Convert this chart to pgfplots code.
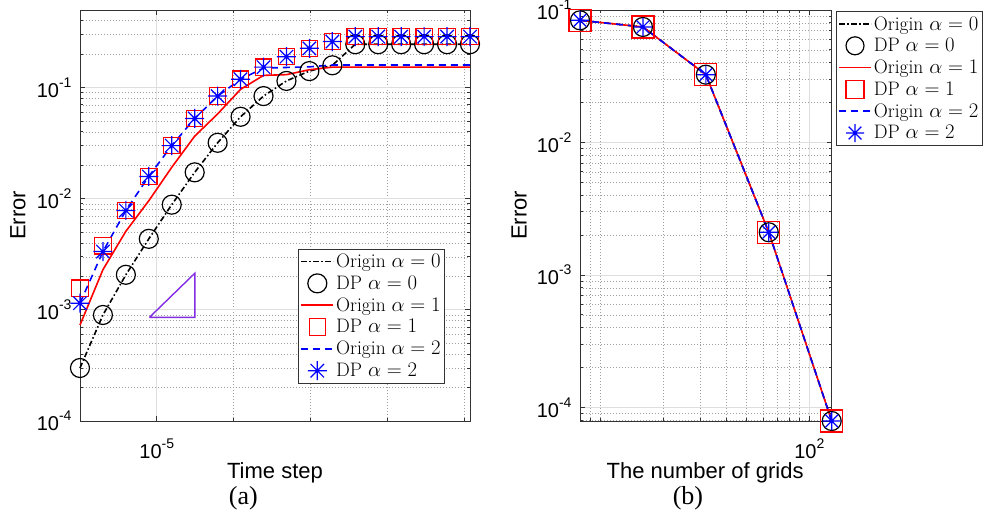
\documentclass[border=0pt]{standalone}
\usepackage{fontspec}
\usepackage{pgfplots}
\usepackage{pgfplotstable}
\pgfplotsset{compat=1.18}
\newfontfamily\arial{Liberation Sans}
\newfontfamily\timesfont{Liberation Serif}
\definecolor{tri}{RGB}{130,45,225}
\definecolor{boxc}{gray}{0.2}
\newcommand\tn[1]{10\raisebox{10pt}{\fontsize{14}{14}\selectfont#1}}

% asterisk with 8 rays, as MATLAB draws it
\pgfdeclareplotmark{ast8}{%
  \pgfpathmoveto{\pgfpoint{-\pgfplotmarksize}{0pt}}\pgfpathlineto{\pgfpoint{\pgfplotmarksize}{0pt}}%
  \pgfpathmoveto{\pgfpoint{0pt}{-\pgfplotmarksize}}\pgfpathlineto{\pgfpoint{0pt}{\pgfplotmarksize}}%
  \pgfpathmoveto{\pgfpoint{-.707\pgfplotmarksize}{-.707\pgfplotmarksize}}\pgfpathlineto{\pgfpoint{.707\pgfplotmarksize}{.707\pgfplotmarksize}}%
  \pgfpathmoveto{\pgfpoint{-.707\pgfplotmarksize}{.707\pgfplotmarksize}}\pgfpathlineto{\pgfpoint{.707\pgfplotmarksize}{-.707\pgfplotmarksize}}%
  \pgfusepathqstroke}

% time step, Origin/DP errors for alpha = 0,1,2
\pgfplotstableread{
x          a0      r1      a1      b2      a2
5.000e-6   3.0e-4  7.3e-4  1.57e-3 1.15e-3 1.15e-3
6.150e-6   9.0e-4  2.3e-3  3.78e-3 3.35e-3 3.35e-3
7.565e-6   2.07e-3 5.1e-3  7.85e-3 7.85e-3 7.85e-3
9.304e-6   4.36e-3 9.6e-3  0.0159  0.0159  0.0159
1.1444e-5  8.85e-3 0.0192  0.0301  0.0301  0.0301
1.4076e-5  0.0173  0.0366  0.0528  0.0528  0.0528
1.7314e-5  0.0319  0.058   0.084   0.084   0.084
2.1296e-5  0.0547  0.0966  0.119   0.119   0.119
2.6194e-5  0.084   0.129   0.153   0.150   0.153
3.2219e-5  0.115   0.131   0.190   0.152   0.190
3.9630e-5  0.141   0.145   0.226   0.154   0.226
4.8745e-5  0.159   0.153   0.260   0.160   0.260
5.9956e-5  0.246   0.153   0.288   0.160   0.288
7.3746e-5  0.246   0.153   0.288   0.160   0.288
9.0707e-5  0.246   0.153   0.288   0.160   0.288
1.1157e-4  0.246   0.153   0.288   0.160   0.288
1.3723e-4  0.246   0.153   0.288   0.160   0.288
1.6879e-4  0.246   0.153   0.288   0.160   0.288
}\steptab

\pgfplotstableread{
n    e
8    0.0836
16   0.0745
32   0.0325
64   2.10e-3
128  7.9e-5
}\gridtab

\tikzset{
  oriA/.style={draw=black, line width=1.6pt, dash pattern=on 5.5pt off 2.5pt on 1.5pt off 2.5pt},
  oriB/.style={draw=red, line width=1.6pt},
  oriC/.style={draw=blue, line width=1.6pt, dash pattern=on 7pt off 5pt},
  dpA/.style={only marks, mark=o, mark size=9.5pt, mark options={draw=black, solid, line width=1.2pt}},
  dpB/.style={only marks, mark=square, mark size=8.2pt, mark options={draw=red, solid, line width=1.2pt}},
  dpC/.style={only marks, mark=ast8, mark size=9.5pt, mark options={draw=blue, solid, line width=1.2pt}},
}

\pgfplotsset{
  grid=both,
  major grid style={black!13, line width=0.8pt},
  minor grid style={black!38, line width=0.6pt, dash pattern=on 1pt off 2pt},
  axis line style={black!80, line width=0.9pt},
  major tick length=5pt, minor tick length=3pt,
  tick style={black!80, line width=0.8pt},
  tick label style={font=\arial\fontsize{20}{24}\selectfont},
  xticklabel style={yshift=-14pt},
  yticklabel style={xshift=-5pt},
  label style={font=\arial\fontsize{22}{26}\selectfont},
  legend style={font=\fontsize{19.5}{22}\selectfont, draw=boxc, line width=0.8pt,
    inner xsep=2pt, inner ysep=3pt, row sep=2.8pt},
  legend cell align=left,
  legend image code/.code={\draw[mark repeat=2,mark phase=2,#1] plot coordinates {(0pt,0pt) (16pt,0pt) (32pt,0pt)};},
}

\begin{document}
\begin{tikzpicture}
\useasboundingbox (0,0) rectangle (985pt,515pt);

\begin{axis}[
  xmode=log, ymode=log, scale only axis, clip=false,
  at={(80pt,94pt)}, anchor=south west,
  width=390pt, height=411pt,
  xmin=5e-6, xmax=1.6879e-4, ymin=1e-4, ymax=0.5,
  xtick={1e-5}, xticklabels={\tn{-5}},
  minor xtick={2e-5,4e-5,8e-5,1.6e-4},
  ytick={1e-4,1e-3,1e-2,1e-1},
  yticklabels={\tn{-4},\tn{-3},\tn{-2},\tn{-1}},
  minor ytick={2e-4,3e-4,4e-4,5e-4,6e-4,7e-4,8e-4,9e-4,2e-3,3e-3,4e-3,5e-3,6e-3,7e-3,8e-3,9e-3,
    0.02,0.03,0.04,0.05,0.06,0.07,0.08,0.09,0.2,0.3,0.4},
  xlabel={Time step}, ylabel={Error},
  xlabel style={at={(axis description cs:0.5,-0.1265)}, anchor=center},
  ylabel style={at={(axis description cs:-0.159,0.5)}, anchor=center},
  legend style={at={(0.936,0.091)}, anchor=south east},
]
\addplot[oriA] table[x=x, y=a0] {\steptab};
\addplot[dpA] table[x=x, y=a0] {\steptab};
\addplot[oriB] table[x=x, y=r1] {\steptab};
\addplot[dpB] table[x=x, y=a1] {\steptab};
\addplot[oriC] table[x=x, y=b2] {\steptab};
\addplot[dpC] table[x=x, y=a2] {\steptab};
\addplot[draw=tri, line width=1.4pt, forget plot] coordinates {(9.36e-6,8.57e-4) (1.41e-5,8.57e-4) (1.41e-5,2.14e-3) (9.36e-6,8.57e-4)};
\legend{Origin $\alpha=0$, DP $\alpha=0$, Origin $\alpha=1$, DP $\alpha=1$, Origin $\alpha=2$, DP $\alpha=2$}
\node[font=\timesfont\fontsize{26}{30}\selectfont] at (axis description cs:0.419,-0.187) {(a)};
\end{axis}

\begin{axis}[
  xmode=log, ymode=log, scale only axis, clip=false,
  at={(580pt,94pt)}, anchor=south west,
  width=251.7pt, height=411pt,
  xmin=8, xmax=128, ymin=7.9e-5, ymax=0.1,
  xtick={100}, xticklabels={\tn{2}},
  minor xtick={9,10,20,30,40,50,60,70,80,90},
  ytick={1e-4,1e-3,1e-2,1e-1},
  yticklabels={\tn{-4},\tn{-3},\tn{-2},\tn{-1}},
  minor ytick={8e-5,9e-5,2e-4,3e-4,4e-4,5e-4,6e-4,7e-4,8e-4,9e-4,2e-3,3e-3,4e-3,5e-3,6e-3,7e-3,8e-3,9e-3,
    0.02,0.03,0.04,0.05,0.06,0.07,0.08,0.09},
  xlabel={The number of grids}, ylabel={Error},
  xlabel style={at={(axis description cs:0.497,-0.1265)}, anchor=center},
  ylabel style={at={(axis description cs:-0.242,0.5)}, anchor=center},
  legend style={at={(1.6,0.9975)}, anchor=north east},
  legend image post style={mark size=9pt},
]
\addplot[oriA] table[x=n, y=e] {\gridtab};
\addplot[dpA] table[x=n, y=e] {\gridtab};
\addplot[oriB] table[x=n, y=e] {\gridtab};
\addplot[dpB, mark size=11pt] table[x=n, y=e] {\gridtab};
\addplot[oriC] table[x=n, y=e] {\gridtab};
\addplot[dpC, mark size=9pt] table[x=n, y=e] {\gridtab};
\legend{Origin $\alpha=0$, DP $\alpha=0$, Origin $\alpha=1$, DP $\alpha=1$, Origin $\alpha=2$, DP $\alpha=2$}
\node[font=\timesfont\fontsize{26}{30}\selectfont] at (axis description cs:0.429,-0.187) {(b)};
\end{axis}
\end{tikzpicture}
\end{document}
